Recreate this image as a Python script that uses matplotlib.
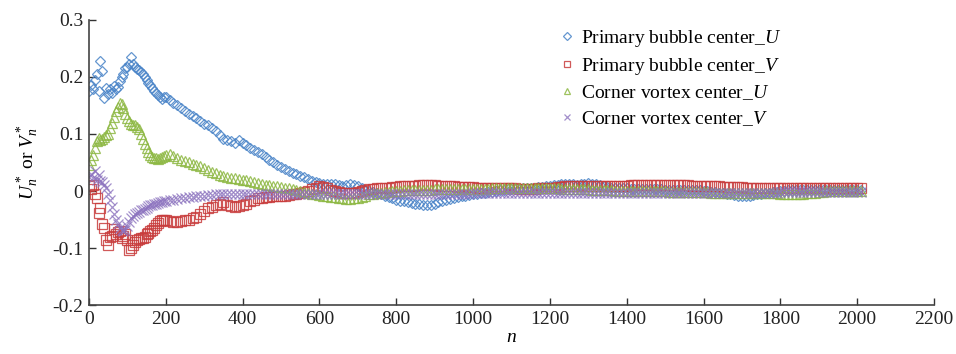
import numpy as np
import matplotlib
matplotlib.use("Agg")
import matplotlib.pyplot as plt

# ---------------- data ----------------
# n: step 5 up to 195, then step 10 up to 2010
n = np.concatenate([np.arange(0, 200, 5), np.arange(200, 2011, 10)])

bubble_u = [
    # n = 0 .. 195 (step 5)
    0.175, 0.185, 0.178, 0.195, 0.205, 0.175, 0.228, 0.210, 0.163, 0.180,
    0.170, 0.178, 0.172, 0.184, 0.178, 0.182, 0.193, 0.200, 0.205, 0.215,
    0.218, 0.222, 0.235, 0.222, 0.218, 0.214, 0.212, 0.208, 0.205, 0.200,
    0.195, 0.190, 0.185, 0.180, 0.176, 0.172, 0.168, 0.165, 0.162, 0.165,
    # n = 200 .. 2010 (step 10)
    0.165, 0.160, 0.155, 0.150, 0.145, 0.140, 0.135, 0.132, 0.128, 0.122,
    0.118, 0.115, 0.110, 0.105, 0.098, 0.092, 0.090, 0.088, 0.085, 0.090,
    0.085, 0.080, 0.076, 0.072, 0.068, 0.065, 0.060, 0.055, 0.050, 0.046,
    0.042, 0.038, 0.035, 0.032, 0.030, 0.027, 0.024, 0.021, 0.018, 0.016,
    0.014, 0.012, 0.012, 0.013, 0.012, 0.010, 0.008, 0.010, 0.012, 0.011,
    0.008, 0.005, 0.002, 0.000, -0.002, -0.003, -0.005, -0.008, -0.011, -0.013,
    -0.015, -0.017, -0.018, -0.019, -0.021, -0.022, -0.023, -0.024, -0.025, -0.024,
    -0.022, -0.020, -0.018, -0.016, -0.014, -0.012, -0.010, -0.009, -0.008, -0.007,
    -0.006, -0.005, -0.004, -0.003, -0.002, -0.001, 0.000, 0.001, 0.002, 0.003,
    0.003, 0.004, 0.004, 0.005, 0.005, 0.006, 0.006, 0.007, 0.007, 0.008,
    0.009, 0.010, 0.011, 0.012, 0.012, 0.013, 0.012, 0.011, 0.012, 0.013,
    0.014, 0.013, 0.012, 0.010, 0.008, 0.007, 0.006, 0.006, 0.005, 0.005,
    0.005, 0.004, 0.004, 0.004, 0.004, 0.003, 0.003, 0.003, 0.003, 0.003,
    0.002, 0.002, 0.002, 0.002, 0.002, 0.001, 0.001, 0.001, 0.001, 0.001,
    0.000, 0.000, -0.001, -0.002, -0.003, -0.004, -0.005, -0.006, -0.007, -0.008,
    -0.008, -0.009, -0.008, -0.007, -0.006, -0.005, -0.004, -0.003, -0.002, -0.001,
    0.000, 0.000, 0.001, 0.001, 0.002, 0.002, 0.002, 0.002, 0.002, 0.002,
    0.002, 0.002, 0.002, 0.002, 0.002, 0.002, 0.002, 0.002, 0.002, 0.002,
    0.002, 0.002,
]

bubble_v = [
    # n = 0 .. 195 (step 5)
    0.008, 0.003, 0.010, -0.005, -0.012, -0.038, -0.030, -0.058, -0.065, -0.086,
    -0.095, -0.080, -0.078, -0.066, -0.075, -0.072, -0.070, -0.082, -0.078, -0.076,
    -0.085, -0.103, -0.100, -0.094, -0.090, -0.086, -0.084, -0.083, -0.082, -0.080,
    -0.076, -0.073, -0.070, -0.068, -0.065, -0.060, -0.056, -0.053, -0.051, -0.050,
    # n = 200 .. 2010 (step 10)
    -0.050, -0.053, -0.055, -0.055, -0.053, -0.050, -0.050, -0.048, -0.045, -0.040,
    -0.035, -0.030, -0.028, -0.025, -0.022, -0.020, -0.024, -0.027, -0.028, -0.027,
    -0.025, -0.022, -0.018, -0.015, -0.013, -0.012, -0.010, -0.010, -0.009, -0.008,
    -0.008, -0.008, -0.007, -0.006, -0.005, -0.004, -0.002, 0.000, 0.003, 0.006,
    0.008, 0.007, 0.005, 0.002, 0.000, -0.002, -0.003, -0.004, -0.004, -0.003,
    -0.002, 0.000, 0.002, 0.003, 0.004, 0.005, 0.005, 0.006, 0.006, 0.007,
    0.007, 0.008, 0.008, 0.009, 0.009, 0.009, 0.010, 0.010, 0.010, 0.010,
    0.010, 0.009, 0.009, 0.008, 0.008, 0.008, 0.007, 0.007, 0.007, 0.007,
    0.007, 0.006, 0.006, 0.006, 0.005, 0.005, 0.005, 0.005, 0.005, 0.005,
    0.005, 0.005, 0.004, 0.004, 0.004, 0.004, 0.004, 0.005, 0.005, 0.006,
    0.006, 0.006, 0.007, 0.007, 0.008, 0.008, 0.008, 0.009, 0.009, 0.009,
    0.009, 0.009, 0.009, 0.009, 0.009, 0.009, 0.009, 0.009, 0.009, 0.009,
    0.009, 0.010, 0.010, 0.010, 0.010, 0.010, 0.010, 0.010, 0.010, 0.010,
    0.010, 0.010, 0.010, 0.010, 0.010, 0.010, 0.010, 0.009, 0.009, 0.009,
    0.009, 0.008, 0.008, 0.008, 0.008, 0.007, 0.007, 0.007, 0.007, 0.007,
    0.007, 0.006, 0.006, 0.006, 0.006, 0.006, 0.006, 0.006, 0.006, 0.006,
    0.006, 0.006, 0.006, 0.006, 0.006, 0.006, 0.006, 0.006, 0.006, 0.006,
    0.005, 0.005, 0.005, 0.005, 0.005, 0.005, 0.005, 0.005, 0.005, 0.005,
    0.005, 0.005,
]

corner_u = [
    # n = 0 .. 195 (step 5)
    0.045, 0.055, 0.063, 0.075, 0.088, 0.093, 0.090, 0.092, 0.095, 0.098,
    0.100, 0.110, 0.120, 0.130, 0.140, 0.148, 0.155, 0.152, 0.145, 0.135,
    0.128, 0.122, 0.118, 0.116, 0.115, 0.112, 0.108, 0.100, 0.092, 0.083,
    0.075, 0.068, 0.063, 0.060, 0.058, 0.057, 0.056, 0.057, 0.059, 0.061,
    # n = 200 .. 2010 (step 10)
    0.063, 0.065, 0.062, 0.058, 0.055, 0.052, 0.050, 0.048, 0.045, 0.043,
    0.040, 0.037, 0.034, 0.031, 0.028, 0.026, 0.024, 0.023, 0.022, 0.021,
    0.020, 0.019, 0.018, 0.016, 0.014, 0.012, 0.011, 0.010, 0.009, 0.008,
    0.007, 0.006, 0.005, 0.003, 0.002, 0.000, -0.002, -0.004, -0.005, -0.006,
    -0.007, -0.008, -0.009, -0.010, -0.011, -0.012, -0.013, -0.014, -0.014, -0.013,
    -0.012, -0.010, -0.008, -0.006, -0.005, -0.004, -0.003, -0.002, -0.001, 0.000,
    0.000, 0.000, 0.001, 0.001, 0.001, 0.002, 0.002, 0.002, 0.002, 0.002,
    0.003, 0.003, 0.003, 0.003, 0.003, 0.003, 0.003, 0.003, 0.003, 0.003,
    0.003, 0.004, 0.004, 0.004, 0.004, 0.005, 0.005, 0.005, 0.005, 0.005,
    0.005, 0.005, 0.005, 0.005, 0.005, 0.005, 0.005, 0.005, 0.005, 0.005,
    0.005, 0.005, 0.005, 0.004, 0.004, 0.004, 0.004, 0.003, 0.003, 0.003,
    0.003, 0.002, 0.002, 0.002, 0.001, 0.001, 0.001, 0.000, 0.000, 0.000,
    0.000, 0.000, 0.000, 0.000, 0.000, 0.000, 0.000, 0.000, 0.000, 0.000,
    0.000, -0.001, -0.001, -0.001, -0.001, -0.002, -0.002, -0.002, -0.002, -0.002,
    -0.002, -0.002, -0.003, -0.003, -0.003, -0.003, -0.003, -0.004, -0.004, -0.004,
    -0.004, -0.004, -0.004, -0.004, -0.004, -0.004, -0.004, -0.004, -0.004, -0.004,
    -0.005, -0.005, -0.005, -0.005, -0.005, -0.005, -0.005, -0.004, -0.004, -0.003,
    -0.002, -0.001, 0.000, 0.000, 0.000, 0.000, 0.000, 0.000, 0.000, 0.000,
    0.000, 0.000,
]

corner_v = [
    # n = 0 .. 195 (step 5)
    0.025, 0.030, 0.022, 0.035, 0.020, 0.028, 0.018, 0.015, 0.010, 0.005,
    -0.005, -0.015, -0.028, -0.040, -0.050, -0.058, -0.065, -0.068, -0.070, -0.068,
    -0.062, -0.055, -0.048, -0.043, -0.040, -0.038, -0.036, -0.034, -0.033, -0.031,
    -0.029, -0.027, -0.025, -0.024, -0.023, -0.022, -0.021, -0.020, -0.019, -0.018,
    # n = 200 .. 2010 (step 10)
    -0.017, -0.016, -0.015, -0.014, -0.013, -0.012, -0.011, -0.010, -0.009, -0.008,
    -0.008, -0.007, -0.007, -0.006, -0.006, -0.006, -0.006, -0.006, -0.006, -0.006,
    -0.006, -0.006, -0.006, -0.006, -0.006, -0.006, -0.006, -0.005, -0.005, -0.005,
    -0.005, -0.005, -0.005, -0.005, -0.005, -0.005, -0.005, -0.005, -0.005, -0.005,
    -0.005, -0.005, -0.005, -0.005, -0.005, -0.005, -0.005, -0.005, -0.005, -0.005,
    -0.005, -0.005, -0.005, -0.005, -0.005, -0.005, -0.005, -0.005, -0.005, -0.005,
    -0.005, -0.005, -0.005, -0.005, -0.005, -0.005, -0.005, -0.005, -0.005, -0.005,
    -0.005, -0.005, -0.005, -0.005, -0.005, -0.005, -0.005, -0.005, -0.005, -0.005,
    -0.004, -0.004, -0.004, -0.004, -0.004, -0.004, -0.004, -0.004, -0.004, -0.004,
    -0.004, -0.004, -0.004, -0.004, -0.004, -0.004, -0.004, -0.004, -0.004, -0.004,
    -0.004, -0.004, -0.004, -0.004, -0.004, -0.004, -0.004, -0.004, -0.004, -0.004,
    -0.004, -0.004, -0.004, -0.004, -0.004, -0.004, -0.004, -0.004, -0.004, -0.004,
    -0.004, -0.004, -0.004, -0.004, -0.004, -0.004, -0.004, -0.004, -0.004, -0.004,
    -0.003, -0.003, -0.003, -0.003, -0.003, -0.003, -0.003, -0.003, -0.003, -0.003,
    -0.003, -0.003, -0.003, -0.003, -0.003, -0.003, -0.003, -0.003, -0.003, -0.003,
    -0.003, -0.003, -0.003, -0.003, -0.003, -0.003, -0.003, -0.003, -0.003, -0.003,
    -0.002, -0.002, -0.002, -0.002, -0.002, -0.002, -0.002, -0.002, -0.002, -0.002,
    -0.002, -0.002, -0.002, -0.002, -0.002, -0.002, -0.002, -0.002, -0.002, -0.002,
    -0.001, -0.001,
]

labels = [
    r"Primary bubble center_$U$",
    r"Primary bubble center_$V$",
    r"Corner vortex center_$U$",
    r"Corner vortex center_$V$",
]
xticks = [0, 200, 400, 600, 800, 1000, 1200, 1400, 1600, 1800, 2000, 2200]
yticks = [-0.2, -0.1, 0, 0.1, 0.2, 0.3]
ytick_labels = ["-0.2", "-0.1", "0", "0.1", "0.2", "0.3"]

# ---------------- plotting ----------------
plt.rcParams.update({
    "font.family": ["Liberation Serif", "DejaVu Serif"],
    "mathtext.fontset": "custom",
    "mathtext.rm": "Liberation Serif",
    "mathtext.it": "Liberation Serif:italic",
    "font.size": 14,
})

fig = plt.figure(figsize=(9.56, 3.54), dpi=100)
ax = fig.add_axes([0.093, 0.138, 0.884, 0.806])

series = [bubble_u, bubble_v, corner_u, corner_v]
colors = ["#4A84C8", "#C83C3C", "#8DB843", "#8C73BF"]
markers = ["D", "s", "^", "x"]
sizes = [5.5, 6.5, 6.5, 6.5]

for y, c, m, ms, lab in zip(series, colors, markers, sizes, labels):
    if m == "x":
        ax.plot(n, y, ls="none", marker=m, ms=ms, mew=0.9, color=c, alpha=0.8, label=lab)
    else:
        ax.plot(n, y, ls="none", marker=m, ms=ms, mew=0.9, mfc="none", mec=c, alpha=0.85, label=lab)

ax.set_xlim(0, 2200)
ax.set_ylim(-0.2, 0.3)
ax.set_xticks(xticks)
ax.set_yticks(yticks)
ax.set_yticklabels(ytick_labels)
ax.tick_params(direction="in", length=5, width=1, colors="#333333", labelcolor="#222222", pad=4)
for s in ["top", "right"]:
    ax.spines[s].set_visible(False)
for s in ["left", "bottom"]:
    ax.spines[s].set_color("#444444")
    ax.spines[s].set_linewidth(1.2)

ax.set_xlabel(r"$n$", labelpad=1)
ax.set_ylabel(r"$U_n^*$ or $V_n^*$", labelpad=8)

leg = ax.legend(loc="upper left", bbox_to_anchor=(0.543, 1.02), frameon=False,
                handlelength=0.6, handletextpad=0.4, labelspacing=0.35,
                markerscale=0.75, borderpad=0.2)

fig.savefig("out.png", dpi=100)
